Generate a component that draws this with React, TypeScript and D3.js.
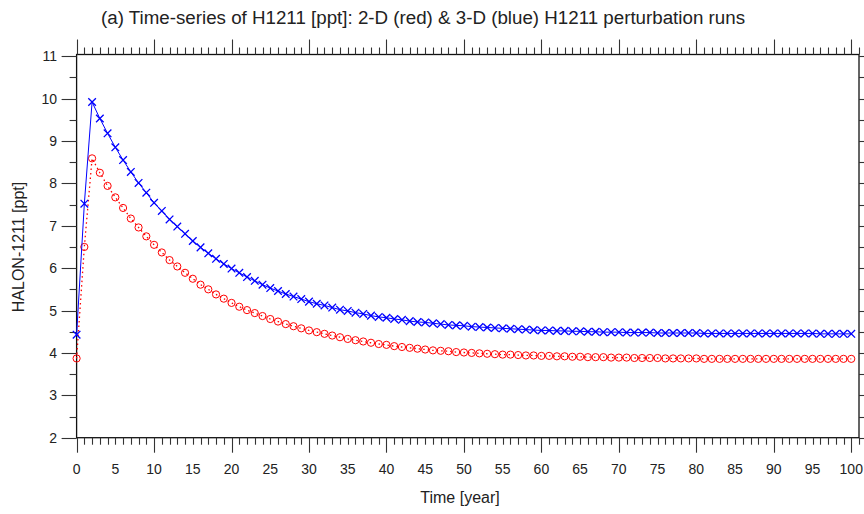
import React, { useEffect, useRef } from "react"
import * as d3 from "d3"

const years = d3.range( 0, 101 )

// 2-D model run (red circles, dotted line)
const run2d = [
  3.87, 6.50, 8.59, 8.25, 7.94, 7.67, 7.42, 7.17, 6.96, 6.75,
  6.55, 6.37, 6.19, 6.04, 5.89, 5.75, 5.61, 5.50, 5.38, 5.28,
  5.18, 5.09, 5.01, 4.94, 4.87, 4.80, 4.74, 4.68, 4.63, 4.58,
  4.53, 4.49, 4.45, 4.41, 4.37, 4.33, 4.30, 4.27, 4.24, 4.21,
  4.19, 4.16, 4.14, 4.12, 4.10, 4.08, 4.06, 4.05, 4.04, 4.02,
  4.01, 4.00, 3.99, 3.98, 3.97, 3.96, 3.96, 3.95, 3.94, 3.94,
  3.93, 3.93, 3.92, 3.92, 3.91, 3.91, 3.90, 3.90, 3.90, 3.89,
  3.89, 3.89, 3.88, 3.88, 3.88, 3.88, 3.87, 3.87, 3.87, 3.87,
  3.87, 3.86, 3.86, 3.86, 3.86, 3.86, 3.86, 3.86, 3.86, 3.86,
  3.86, 3.86, 3.86, 3.86, 3.86, 3.86, 3.86, 3.86, 3.86, 3.86,
  3.86
]

// 3-D model run (blue crosses, solid line)
const run3d = [
  4.43, 7.52, 9.92, 9.53, 9.18, 8.85, 8.55, 8.27, 8.01, 7.78,
  7.54, 7.35, 7.15, 6.98, 6.81, 6.64, 6.49, 6.35, 6.22, 6.10,
  5.99, 5.89, 5.79, 5.70, 5.61, 5.53, 5.46, 5.39, 5.33, 5.27,
  5.21, 5.16, 5.12, 5.07, 5.02, 4.99, 4.95, 4.92, 4.88, 4.85,
  4.83, 4.80, 4.78, 4.75, 4.73, 4.72, 4.70, 4.68, 4.66, 4.65,
  4.64, 4.62, 4.61, 4.60, 4.59, 4.58, 4.57, 4.56, 4.55, 4.54,
  4.53, 4.53, 4.52, 4.52, 4.51, 4.51, 4.50, 4.50, 4.49, 4.49,
  4.49, 4.48, 4.48, 4.48, 4.48, 4.47, 4.47, 4.47, 4.47, 4.47,
  4.47, 4.46, 4.46, 4.46, 4.46, 4.46, 4.46, 4.46, 4.46, 4.46,
  4.46, 4.46, 4.46, 4.46, 4.46, 4.46, 4.45, 4.45, 4.45, 4.45,
  4.45
]

const xTickLabels = d3.range( 0, 101, 5 )
const yTickLabels = d3.range( 2, 12, 1 )

const title = "(a) Time-series of H1211 [ppt]: 2-D (red) & 3-D (blue) H1211 perturbation runs"
const xTitle = "Time [year]"
const yTitle = "HALON-1211 [ppt]"

export default function App() {
  const ref = useRef<SVGSVGElement>( null )

  useEffect( () => {
    const w = 864
    const h = 514
    const left = 76.6
    const right = 859
    const top = 54.5
    const bottom = 437.7
    const font = "'Liberation Sans', Arial, sans-serif"
    const ink = "#222"

    const svg = d3.select( ref.current )
    svg.selectAll( "*" ).remove()
    svg.attr( "width", w ).attr( "height", h )

    const x = d3.scaleLinear().domain( [ 0, 101 ] ).range( [ left, right ] )
    const y = d3.scaleLinear().domain( [ 2, 11.04 ] ).range( [ bottom, top ] )

    // frame
    svg
      .append( "rect" )
      .attr( "x", left )
      .attr( "y", top )
      .attr( "width", right - left )
      .attr( "height", bottom - top )
      .attr( "fill", "none" )
      .attr( "stroke", "#111" )
      .attr( "stroke-width", 1.3 )

    const tickG = svg.append( "g" ).attr( "stroke", "#333" ).attr( "stroke-width", 1.1 )

    // x ticks, top and bottom, pointing outward
    d3.range( 0, 102 ).forEach( v => {
      const len = v % 10 === 0 ? 15 : 7
      const px = Math.round( x( v ) ) + 0.5
      tickG.append( "line" ).attr( "x1", px ).attr( "x2", px ).attr( "y1", bottom ).attr( "y2", bottom + len )
      tickG.append( "line" ).attr( "x1", px ).attr( "x2", px ).attr( "y1", top ).attr( "y2", top - len )
    } )

    // y ticks, left and right, pointing outward
    d3.range( 2, 11.01, 0.5 ).forEach( v => {
      const len = Number.isInteger( v ) ? 15 : 7
      const py = Math.round( y( v ) ) + 0.5
      tickG.append( "line" ).attr( "x1", left ).attr( "x2", left - len ).attr( "y1", py ).attr( "y2", py )
      tickG.append( "line" ).attr( "x1", right ).attr( "x2", right + len ).attr( "y1", py ).attr( "y2", py )
    } )

    svg
      .append( "g" )
      .selectAll( "text" )
      .data( xTickLabels )
      .enter()
      .append( "text" )
      .attr( "x", d => x( d ) )
      .attr( "y", 474 )
      .attr( "text-anchor", "middle" )
      .attr( "font-family", font )
      .attr( "font-size", 14 )
      .attr( "fill", ink )
      .text( d => d )

    svg
      .append( "g" )
      .selectAll( "text" )
      .data( yTickLabels )
      .enter()
      .append( "text" )
      .attr( "x", 57 )
      .attr( "y", d => y( d ) + 5 )
      .attr( "text-anchor", "end" )
      .attr( "font-family", font )
      .attr( "font-size", 14 )
      .attr( "fill", ink )
      .text( d => d )

    svg
      .append( "text" )
      .attr( "x", 423 )
      .attr( "y", 24 )
      .attr( "text-anchor", "middle" )
      .attr( "font-family", font )
      .attr( "font-size", 18 )
      .attr( "textLength", 644 )
      .attr( "lengthAdjust", "spacingAndGlyphs" )
      .attr( "fill", ink )
      .text( title )

    svg
      .append( "text" )
      .attr( "x", 460 )
      .attr( "y", 503 )
      .attr( "text-anchor", "middle" )
      .attr( "font-family", font )
      .attr( "font-size", 16 )
      .attr( "fill", ink )
      .text( xTitle )

    svg
      .append( "text" )
      .attr( "transform", "translate(24,247) rotate(-90)" )
      .attr( "text-anchor", "middle" )
      .attr( "font-family", font )
      .attr( "font-size", 16 )
      .attr( "fill", ink )
      .text( yTitle )

    const line = d3
      .line<number>()
      .x( ( d, i ) => x( years[ i ] ) )
      .y( d => y( d ) )

    // red: dotted line with open circles
    svg
      .append( "path" )
      .datum( run2d )
      .attr( "d", line )
      .attr( "fill", "none" )
      .attr( "stroke", "#ff0000" )
      .attr( "stroke-width", 1.3 )
      .attr( "stroke-dasharray", "1.5,3" )

    svg
      .append( "g" )
      .selectAll( "circle" )
      .data( run2d )
      .enter()
      .append( "circle" )
      .attr( "cx", ( d, i ) => x( years[ i ] ) )
      .attr( "cy", d => y( d ) )
      .attr( "r", 3.6 )
      .attr( "fill", "none" )
      .attr( "stroke", "#ff0000" )
      .attr( "stroke-width", 1 )

    // blue: solid line with crosses
    svg
      .append( "path" )
      .datum( run3d )
      .attr( "d", line )
      .attr( "fill", "none" )
      .attr( "stroke", "#0000ff" )
      .attr( "stroke-width", 1 )

    const s = 3.8
    svg
      .append( "g" )
      .selectAll( "path" )
      .data( run3d )
      .enter()
      .append( "path" )
      .attr( "d", ( d, i ) => {
        const cx = x( years[ i ] )
        const cy = y( d )
        return `M${ cx - s },${ cy - s }L${ cx + s },${ cy + s }M${ cx - s },${ cy + s }L${ cx + s },${ cy - s }`
      } )
      .attr( "fill", "none" )
      .attr( "stroke", "#0000ff" )
      .attr( "stroke-width", 1.3 )
  }, [] )

  return <svg ref={ ref } style={ { position: "absolute", left: 0, top: 0, background: "#fff" } } />
}
